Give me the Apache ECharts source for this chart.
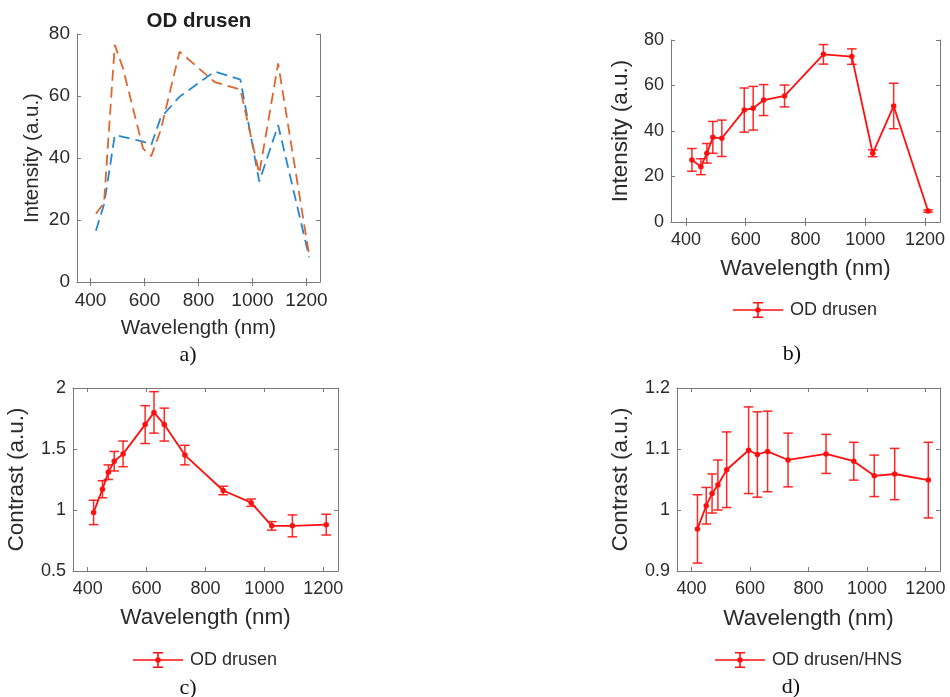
<!DOCTYPE html>
<html>
<head>
<meta charset="utf-8">
<script src="https://cdn.jsdelivr.net/npm/echarts@6/dist/echarts.min.js"></script>
<style>
  html, body { margin: 0; padding: 0; background: #ffffff; }
  #chart { width: 950px; height: 697px; }
</style>
</head>
<body>
<div id="chart"></div>
<script>
// Illumination wavelengths (nm) shared by all four panels
const wavelengths = [420, 450, 470, 490, 520, 595, 625, 660, 730, 860, 955, 1025, 1095, 1210];

// a) OD drusen intensity, two traces
const intensityTraceBlue   = [16.5, 25, 36, 47.4, 46.8, 45.3, 44.2, 53, 59.8, 67.9, 65.3, 32.4, 50.6, 8];
const intensityTraceOrange = [22, 25.5, 51, 76.5, 69, 43, 40.6, 49, 74.3, 64.5, 62.1, 35, 70.5, 8.5];

// b) mean intensity with standard deviation
const intensityMean = [27.3, 24.3, 30.2, 37.2, 36.8, 49.2, 50, 53.6, 55.4, 73.7, 72.7, 30.2, 51, 4.8];
const intensityErr  = [5, 3.5, 4.3, 7, 8, 9.7, 9.6, 6.8, 4.8, 4.3, 3.4, 1.5, 10, 0.5];

// c) contrast of drusen
const contrastMean = [0.98, 1.17, 1.31, 1.40, 1.46, 1.70, 1.80, 1.70, 1.45, 1.16, 1.06, 0.87, 0.87, 0.88];
const contrastErr  = [0.10, 0.07, 0.06, 0.08, 0.105, 0.155, 0.17, 0.135, 0.08, 0.035, 0.03, 0.035, 0.09, 0.085];

// d) contrast of drusen relative to HNS
const ratioMean = [0.969, 1.007, 1.027, 1.041, 1.066, 1.098, 1.091, 1.096, 1.082, 1.092, 1.080, 1.056, 1.059, 1.049];
const ratioErr  = [0.056, 0.03, 0.032, 0.041, 0.062, 0.071, 0.07, 0.066, 0.044, 0.032, 0.031, 0.034, 0.042, 0.062];

// Axis ticks
const xTicks = [400, 600, 800, 1000, 1200];
const xRange = [350, 1250];

const FONT = '"Liberation Sans", Helvetica, Arial, sans-serif';
const SERIF = '"Liberation Serif", "Times New Roman", serif';
const AXIS_COLOR = '#7a7a7a';
const TEXT_COLOR = '#2b2b2b';
const RED = '#ff1010';

const grids = [
  { left: 77,  top: 34,  width: 243, height: 248 },
  { left: 671, top: 40,  width: 269, height: 182 },
  { left: 73,  top: 388, width: 265, height: 183 },
  { left: 677, top: 388, width: 263, height: 183 }
];

// per-panel axis settings
const yCfg = [
  { min: 0,   max: 80,  interval: 20,  name: 'Intensity (a.u.)', gap: 34, tick: 19, title: 20.5, xGap: 36 },
  { min: 0,   max: 80,  interval: 20,  name: 'Intensity (a.u.)', gap: 39, tick: 18, title: 22.5, xGap: 35 },
  { min: 0.5, max: 2,   interval: 0.5, name: 'Contrast (a.u.)',  gap: 45, tick: 18, title: 22.5, xGap: 35 },
  { min: 0.9, max: 1.2, interval: 0.1, name: 'Contrast (a.u.)',  gap: 45, tick: 18, title: 22.5, xGap: 36 }
];

const lineCommon = { show: true, lineStyle: { color: AXIS_COLOR, width: 1 } };
const tickCommon = { show: true, inside: true, length: 4, lineStyle: { color: AXIS_COLOR, width: 1 } };
const plain = (v) => String(+v.toFixed(3));

const xAxes = [];
const yAxes = [];
grids.forEach((g, i) => {
  const c = yCfg[i];
  // bottom axis with labels
  xAxes.push({
    type: 'value', gridIndex: i, min: xRange[0], max: xRange[1], position: 'bottom',
    name: 'Wavelength (nm)', nameLocation: 'middle', nameGap: c.xGap,
    nameTextStyle: { fontFamily: FONT, fontSize: c.title, color: TEXT_COLOR },
    axisLine: lineCommon,
    axisTick: Object.assign({}, tickCommon, { customValues: xTicks }),
    axisLabel: { customValues: xTicks, formatter: plain, fontFamily: FONT, fontSize: c.tick, color: TEXT_COLOR, margin: 9 },
    splitLine: { show: false }
  });
  // top edge of the box
  xAxes.push({
    type: 'value', gridIndex: i, min: xRange[0], max: xRange[1], position: 'top',
    axisLine: lineCommon,
    axisTick: Object.assign({}, tickCommon, { customValues: xTicks }),
    axisLabel: { show: false }, splitLine: { show: false }
  });
  yAxes.push({
    type: 'value', gridIndex: i, min: c.min, max: c.max, interval: c.interval, position: 'left',
    name: c.name, nameLocation: 'middle', nameGap: c.gap,
    nameTextStyle: { fontFamily: FONT, fontSize: c.title, color: TEXT_COLOR },
    axisLine: lineCommon, axisTick: tickCommon,
    axisLabel: { formatter: plain, fontFamily: FONT, fontSize: c.tick, color: TEXT_COLOR, margin: 7 },
    splitLine: { show: false }
  });
  yAxes.push({
    type: 'value', gridIndex: i, min: c.min, max: c.max, interval: c.interval, position: 'right',
    axisLine: lineCommon, axisTick: tickCommon,
    axisLabel: { show: false }, splitLine: { show: false }
  });
});

const pairs = (ys) => wavelengths.map((w, k) => [w, ys[k]]);
const triples = (ys, es) => wavelengths.map((w, k) => [w, ys[k], es[k]]);

// Vertical error bar with caps, positioned through the axis scales
function renderErrorBar(params, api) {
  const x = api.value(0), y = api.value(1), e = api.value(2);
  const top = api.coord([x, y + e]);
  const bot = api.coord([x, y - e]);
  const half = 4.8;
  const style = { stroke: RED, lineWidth: 1.5, opacity: 0.9 };
  return {
    type: 'group',
    children: [
      { type: 'line', shape: { x1: top[0], y1: top[1], x2: bot[0], y2: bot[1] }, style },
      { type: 'line', shape: { x1: top[0] - half, y1: top[1], x2: top[0] + half, y2: top[1] }, style },
      { type: 'line', shape: { x1: bot[0] - half, y1: bot[1], x2: bot[0] + half, y2: bot[1] }, style }
    ]
  };
}

function errorPanel(gridIdx, name, mean, err) {
  return [
    {
      type: 'custom', xAxisIndex: gridIdx * 2, yAxisIndex: gridIdx * 2,
      renderItem: renderErrorBar, data: triples(mean, err),
      encode: { x: 0, y: 1 }, silent: true, z: 2
    },
    {
      type: 'line', name: name, xAxisIndex: gridIdx * 2, yAxisIndex: gridIdx * 2,
      data: pairs(mean), symbol: 'circle', symbolSize: 5.5, showSymbol: true,
      lineStyle: { color: RED, width: 1.8 }, itemStyle: { color: RED }, z: 3
    }
  ];
}

// Legend glyph: line with error bar and marker
const errIcon = 'path://M0 7.2H50V8.8H0Z M24.2 0H25.8V16H24.2Z M20 0H30V1.5H20Z M20 14.5H30V16H20Z M22.2 8A2.8 2.8 0 1 1 27.8 8A2.8 2.8 0 1 1 22.2 8Z';

const legendBase = {
  icon: errIcon, itemWidth: 50, itemHeight: 16, padding: 0,
  textStyle: { fontFamily: FONT, fontSize: 18, color: TEXT_COLOR, padding: [0, 0, 0, 2] },
  selectedMode: false
};

const option = {
  animation: false,
  backgroundColor: '#ffffff',
  grid: grids,
  xAxis: xAxes,
  yAxis: yAxes,
  legend: [
    Object.assign({}, legendBase, { data: ['OD drusen'], left: 733, top: 301 }),
    Object.assign({}, legendBase, { data: ['OD drusen'], left: 133, top: 651 }),
    Object.assign({}, legendBase, { data: ['OD drusen/HNS'], left: 715, top: 651 })
  ],
  series: [
    {
      type: 'line', name: 'trace 1', xAxisIndex: 0, yAxisIndex: 0,
      data: pairs(intensityTraceBlue), symbol: 'none',
      lineStyle: { color: '#2488d0', width: 1.8, type: [11, 6] }
    },
    {
      type: 'line', name: 'trace 2', xAxisIndex: 0, yAxisIndex: 0,
      data: pairs(intensityTraceOrange), symbol: 'none',
      lineStyle: { color: '#e0662f', width: 1.8, type: [11, 6] }
    },
    ...errorPanel(1, 'OD drusen', intensityMean, intensityErr),
    ...errorPanel(2, 'OD drusen', contrastMean, contrastErr),
    ...errorPanel(3, 'OD drusen/HNS', ratioMean, ratioErr)
  ],
  graphic: [
    {
      type: 'text', x: 199, y: 21,
      style: { text: 'OD drusen', font: 'bold 20.5px ' + FONT, fill: '#1e1e1e', align: 'center', verticalAlign: 'middle' }
    }
  ].concat([
    ['a)', 188, 355], ['b)', 792, 354], ['c)', 188, 688], ['d)', 791, 687]
  ].map(([t, x, y]) => ({
    type: 'text', x: x, y: y,
    style: { text: t, font: '22px ' + SERIF, fill: '#111', align: 'center', verticalAlign: 'middle' }
  })))
};

const chart = echarts.init(document.getElementById('chart'), null, { renderer: 'canvas' });
chart.setOption(option);
</script>
</body>
</html>
